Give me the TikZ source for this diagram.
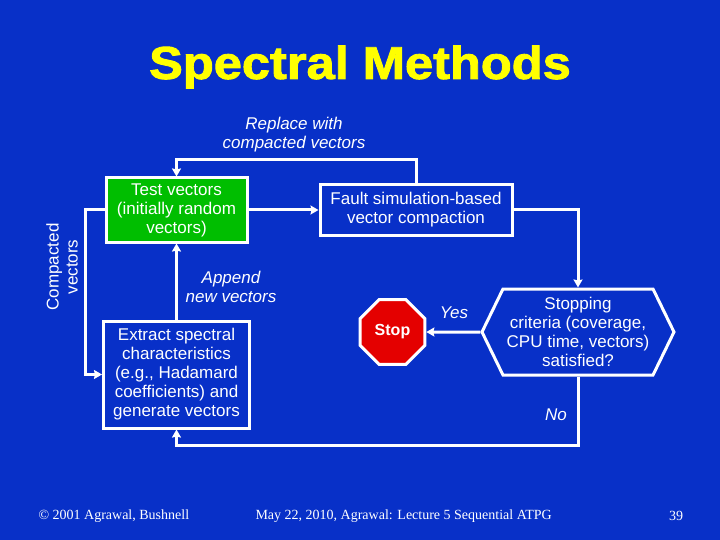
\documentclass[tikz,border=0pt]{standalone}
\usepackage{fontspec}
\setmainfont{Liberation Sans}
\newfontfamily\footfont{Liberation Serif}
\newfontfamily\titlefont[FakeBold=2, FakeStretch=1.1]{Liberation Sans Bold}
\usetikzlibrary{arrows.meta, positioning, shapes.geometric, shapes.symbols}
\definecolor{slideBlue}{RGB}{8, 48, 200}
\definecolor{boxGreen}{RGB}{0, 190, 0}
\definecolor{stopRed}{RGB}{228, 0, 0}
\definecolor{titleYellow}{RGB}{255, 255, 0}

\begin{document}
\begin{tikzpicture}[x=1pt, y=-1pt, >={Stealth[length=8pt, width=9pt, inset=1pt]},
  font=\fontsize{17}{19}\selectfont, white,
  box/.style={draw=white, line width=3pt, fill=slideBlue, align=center, inner sep=0pt},
  flow/.style={->, line width=3pt, white},
  lbl/.style={font=\fontsize{17}{19}\selectfont\itshape, align=center},
  foot/.style={font=\footfont\fontsize{14}{16}\selectfont}]
  % slide background
  \fill[slideBlue] (0,0) rectangle (720,540);
  \useasboundingbox (0,0) rectangle (720,540);
  \node[font=\titlefont\fontsize{46}{50}\selectfont, titleYellow] (title) at (360,67) {Spectral Methods};

  % boxes
  \node[box, fill=boxGreen, minimum width=141pt, minimum height=64pt] (tv) at (176.5,210)
    {Test vectors\\(initially random\\vectors)};
  \node[box, minimum width=192pt, minimum height=50pt] (fsim) at (416,210)
    {Fault simulation-based\\vector compaction};
  \node[box, minimum width=146pt, minimum height=107pt] (extract) at (176.5,374.5)
    {Extract spectral\\characteristics\\(e.g., Hadamard\\coefficients) and\\generate vectors};
  \node[box, signal, signal to=west and east, signal pointer angle=128,
        minimum width=192pt, minimum height=86pt] (stopq) at (578,332)
    {Stopping\\criteria (coverage,\\CPU time, vectors)\\satisfied?};
  \node[regular polygon, regular polygon sides=8, minimum size=70pt, fill=stopRed,
        draw=white, line width=3pt, inner sep=0pt, font=\fontsize{16}{18}\selectfont\bfseries]
    (stop) at (392.5,332) {Stop};

  % turning points of the loops
  \coordinate (loopTop) at (300,160);
  \coordinate (loopBot) at (300,445);
  \coordinate (loopLeft) at (85,300);

  % connectors
  \draw[flow] (tv.east) -- (fsim.west);
  \draw[flow] (fsim.north) -- (fsim.north |- loopTop) -| (tv.north);
  \draw[flow] (fsim.east) -| (stopq.north);
  \draw[flow] (stopq.west) -- (stop.east);
  \draw[flow] (stopq.south) -- (stopq.south |- loopBot) -| (extract.south);
  \draw[flow] (extract.north) -- (tv.south);
  \draw[flow] (tv.west) -- (tv.west -| loopLeft) |- (extract.west);

  % labels
  \node[lbl] (replace) at (294,135) {Replace with\\compacted vectors};
  \node[lbl] (append) at (231,287) {Append\\new vectors};
  \node[lbl] (yes) at (454,313) {Yes};
  \node[lbl] (no) at (556,415) {No};
  \node[lbl, font=\fontsize{17}{19}\selectfont, rotate=90] (compacted) at (62,267) {Compacted\\vectors};

  % footer
  \node[foot, anchor=west] (copy) at (35,516) {© 2001 Agrawal, Bushnell};
  \node[foot, anchor=west] (lecture) at (252,516) {May 22, 2010, Agrawal: Lecture 5 Sequential ATPG};
  \node[foot] (page) at (676,516) {39};
\end{tikzpicture}
\end{document}
